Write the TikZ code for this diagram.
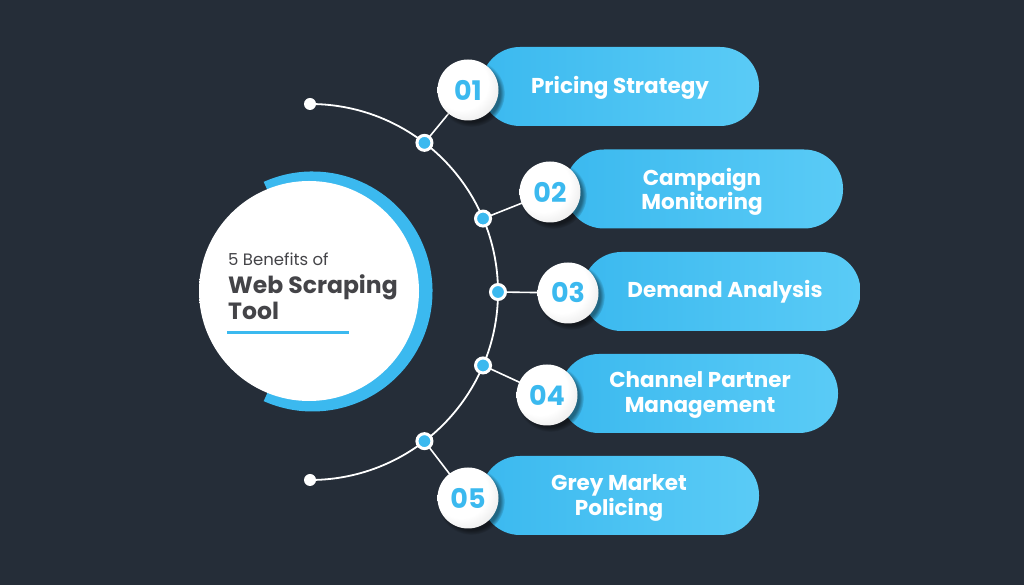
\documentclass[tikz,border=0pt]{standalone}
\usepackage{fontspec}
\setmainfont{Poppins}
\usetikzlibrary{calc,shadows}
\definecolor{bgc}{RGB}{37,45,56}
\definecolor{sky}{RGB}{59,185,239}
\definecolor{skyL}{RGB}{90,203,246}
\definecolor{txtgray}{RGB}{68,68,72}
\pgfdeclarelayer{bglayer}
\pgfdeclarelayer{lines}
\pgfsetlayers{bglayer,lines,main}
\pgfdeclareradialshading{numshade}{\pgfpoint{-10bp}{10bp}}{color(0bp)=(white);color(22bp)=(white);color(50bp)=(black!22)}
\pgfdeclareradialshading{mainshade}{\pgfpoint{-14bp}{14bp}}{color(0bp)=(white);color(34bp)=(white);color(58bp)=(black!20)}
\begin{document}
\begin{tikzpicture}[x=1pt,y=1pt,
  pill/.style={rectangle, rounded corners=39pt, minimum width=278pt, minimum height=79pt, left color=sky, right color=skyL, draw=none, inner sep=0pt},
  numc/.style={circle, minimum size=61pt, inner sep=0pt, shading=numshade, text=sky,
    font=\fontsize{27}{27}\selectfont\bfseries,
    circular drop shadow={shadow xshift=3pt, shadow yshift=-3pt, opacity=.45, fill=black}},
  pilltext/.style={text=white, align=center, font=\fontsize{21.5}{24.5}\selectfont\bfseries, inner sep=0pt},
  dot/.style={circle, fill=sky, draw=white, line width=3pt, minimum size=15pt, inner sep=0pt},
  enddot/.style={circle, fill=white, minimum size=12pt, inner sep=0pt},
  arcline/.style={draw=white, line width=1.8pt},
  conn/.style={draw=white, line width=1.6pt}
]
\begin{pgfonlayer}{bglayer}
\fill[bgc] (0,0) rectangle (1024,585);
\end{pgfonlayer}
\useasboundingbox (0,0) rectangle (1024,585);

\coordinate (C) at (310,293);
\coordinate (B) at (312.5,293.5);

% main circle
\fill[sky] (B) -- ++(114:120) arc[start angle=114, end angle=-114, radius=120] -- cycle;
\node[circle, minimum size=220pt, inner sep=0pt, shading=mainshade] (main) at (309,294) {};
\node[anchor=base west, inner sep=0pt, text=txtgray, font=\fontsize{16.5}{16.5}\selectfont] (t1) at (228,319) {5 Benefits of};
\node[anchor=base west, inner sep=0pt, text=txtgray, font=\fontsize{23.5}{23.5}\selectfont\bfseries] (t2) at (228,291) {Web Scraping};
\node[anchor=base west, inner sep=0pt, text=txtgray, font=\fontsize{23.5}{23.5}\selectfont\bfseries] (t3) at (228,265) {Tool};
\coordinate (u1) at (227,252);
\coordinate (u2) at (349,252);
\draw[sky, line width=3pt] (u1) -- (u2);

% pills
\node[pill] (p1) at (620,498.5) {};
\node[pill] (p2) at (704,396) {};
\node[pill] (p3) at (721.5,293.5) {};
\node[pill] (p4) at (699,191.5) {};
\node[pill] (p5) at (620,89.5) {};

\node[pilltext] (l1) at (620,497) {Pricing Strategy};
\node[pilltext] (l2) at (702,393) {Campaign\\Monitoring};
\node[pilltext] (l3) at (725,293) {Demand Analysis};
\node[pilltext] (l4) at (700,190) {Channel Partner\\Management};
\node[pilltext] (l5) at (619,87) {Grey Market\\Policing};

% number circles
\node[numc] (n1) at (468,495) {01};
\node[numc] (n2) at (550,393) {02};
\node[numc] (n3) at (568,292) {03};
\node[numc] (n4) at (547,190) {04};
\node[numc] (n5) at (468,87) {05};

% arc and dots
\node[enddot] (e1) at ($(C)+(90:188)$) {};
\node[enddot] (e2) at ($(C)+(-90:188)$) {};
\node[dot] (d1) at ($(C)+(52.5:188)$) {};
\node[dot] (d2) at ($(C)+(23:188)$) {};
\node[dot] (d3) at ($(C)+(0:188)$) {};
\node[dot] (d4) at ($(C)+(-23:188)$) {};
\node[dot] (d5) at ($(C)+(-52.5:188)$) {};

\begin{pgfonlayer}{lines}
\draw[arcline] (e1.center) arc[start angle=90, end angle=-90, radius=188];
\draw[conn] (d1.center) -- (n1.center);
\draw[conn] (d2.center) -- (n2.center);
\draw[conn] (d3.center) -- (n3.center);
\draw[conn] (d4.center) -- (n4.center);
\draw[conn] (d5.center) -- (n5.center);
\end{pgfonlayer}
\end{tikzpicture}
\end{document}
